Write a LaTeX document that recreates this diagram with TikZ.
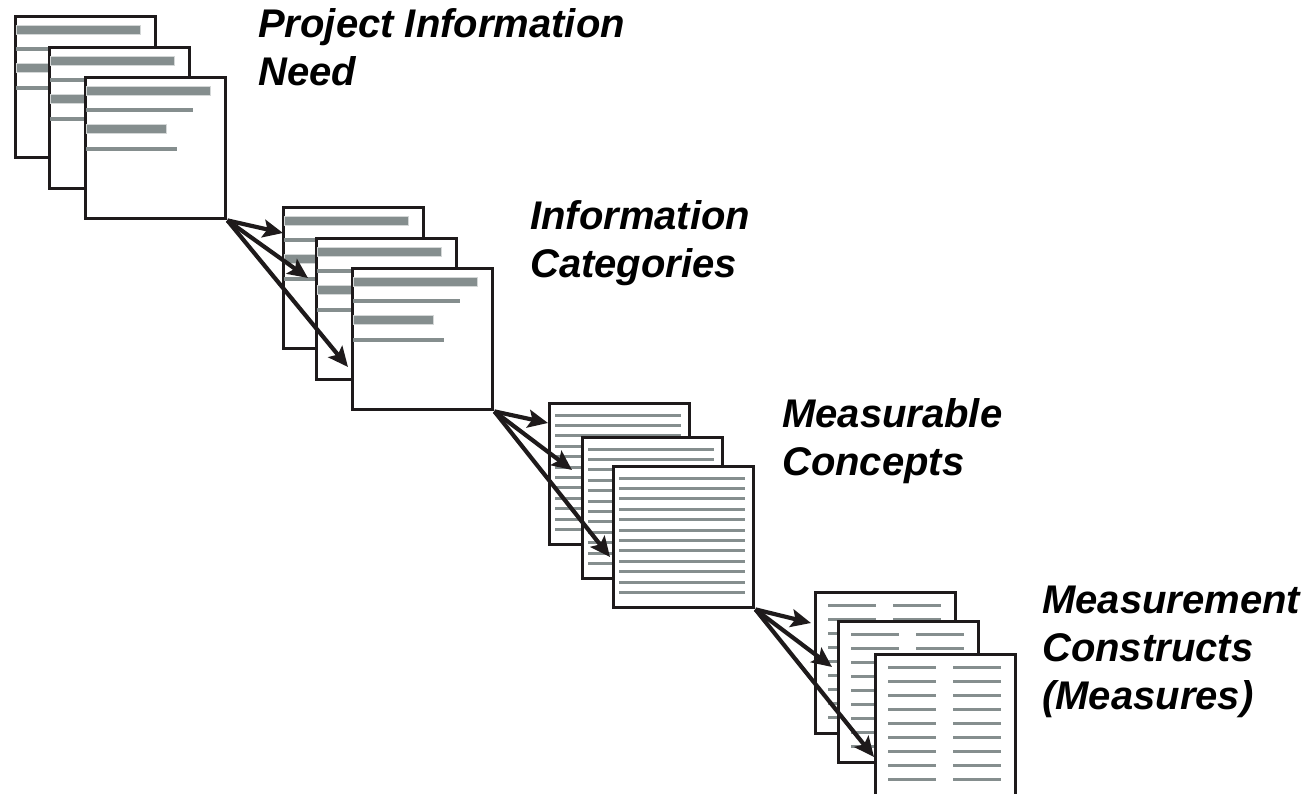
\documentclass[tikz,border=0pt]{standalone}
\usepackage{fontspec}
\setmainfont{Liberation Sans}
\usetikzlibrary{arrows.meta}
\definecolor{pageline}{RGB}{30,26,27}
\definecolor{bargray}{RGB}{133,142,142}
\newcommand{\WPAGE}{140}
\newcommand{\HPAGE}{141}
% bars of a text page
\newcommand{\notebars}[1]{%
  \filldraw[fill=bargray, draw=bargray!35, line width=0.8pt] ([shift={(2,10)}]#1.north west) rectangle ++(124,9);
  \fill[bargray] ([shift={(2,32)}]#1.north west) rectangle ++(107,4);
  \filldraw[fill=bargray, draw=bargray!35, line width=0.8pt] ([shift={(2,48)}]#1.north west) rectangle ++(80,9);
  \fill[bargray] ([shift={(2,71)}]#1.north west) rectangle ++(91,4);}
% ruled page
\newcommand{\rulelines}[1]{%
  \foreach \k in {0,...,11}
    \fill[bargray] ([shift={(7,11.5+10.4*\k)}]#1.north west) rectangle ++(126,3);}
% two column page
\newcommand{\colrows}[1]{%
  \foreach \k in {0,...,8} {
    \fill[bargray] ([shift={(14,12.5+14*\k)}]#1.north west) rectangle ++(48,3);
    \fill[bargray] ([shift={(79,12.5+14*\k)}]#1.north west) rectangle ++(48,3);}}

\tikzset{
  sheet/.style={draw=pageline, line width=3.4pt, fill=white, anchor=north west,
    inner sep=0pt, minimum width=\WPAGE pt, minimum height=\HPAGE pt},
  stage/.style={anchor=base west, align=left, inner sep=0pt,
    font=\fontsize{40}{48}\selectfont\bfseries\itshape},
  flow/.style={draw=pageline, line width=4.2pt, -{Stealth[length=20pt,width=18pt,inset=4pt]}}
}

\begin{document}
\begin{tikzpicture}[x=1pt, y=-1pt]
  \useasboundingbox (0,0) rectangle (1315,794);

  % information need
  \node[sheet] (needA) at (14,15) {}; \notebars{needA}
  \node[sheet] (needB) at (48,46) {}; \notebars{needB}
  \node[sheet] (needC) at (84,76) {}; \notebars{needC}
  \node[stage] (needtxt) at (258,86) {Project Information\\Need};

  % information categories
  \node[sheet] (catA) at (282,206) {}; \notebars{catA}
  \node[sheet] (catB) at (315,237) {}; \notebars{catB}
  \node[sheet] (catC) at (351,267) {}; \notebars{catC}
  \node[stage] (cattxt) at (530,278) {Information\\Categories};

  % measurable concepts
  \node[sheet] (conA) at (548,402) {}; \rulelines{conA}
  \node[sheet] (conB) at (581,436) {}; \rulelines{conB}
  \node[sheet] (conC) at (612,465) {}; \rulelines{conC}
  \node[stage] (context) at (782,475) {Measurable\\Concepts};

  % measurement constructs
  \node[sheet] (msrA) at (814,591) {}; \colrows{msrA}
  \node[sheet] (msrB) at (837,620) {}; \colrows{msrB}
  \node[sheet] (msrC) at (874,653) {}; \colrows{msrC}
  \node[stage] (msrtxt) at (1042,709) {Measurement\\Constructs\\(Measures)};

  \draw[flow] (needC.south east) -- ([shift={(1,27)}]catA.north west);
  \draw[flow] (needC.south east) -- ([shift={(-7,41)}]catB.north west);
  \draw[flow] (needC.south east) -- ([shift={(-3,100)}]catC.north west);

  \draw[flow] (catC.south east) -- ([shift={(0,21)}]conA.north west);
  \draw[flow] (catC.south east) -- ([shift={(-9,34)}]conB.north west);
  \draw[flow] (catC.south east) -- ([shift={(-2,92)}]conC.north west);

  \draw[flow] (conC.south east) -- ([shift={(-3,32)}]msrA.north west);
  \draw[flow] (conC.south east) -- ([shift={(-5,47)}]msrB.north west);
  \draw[flow] (conC.south east) -- ([shift={(0,104)}]msrC.north west);
\end{tikzpicture}
\end{document}
